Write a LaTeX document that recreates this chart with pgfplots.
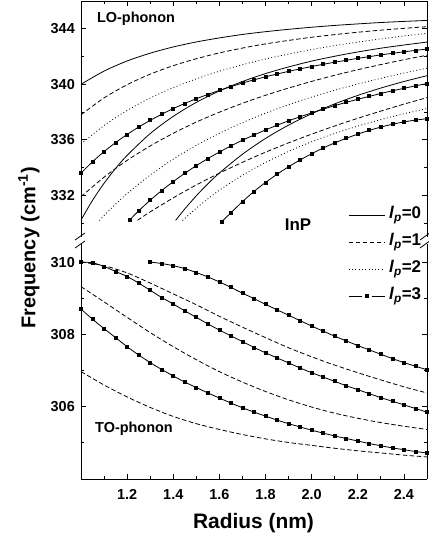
\documentclass[border=0pt]{standalone}
\usepackage{fontspec}
\setmainfont{Liberation Sans}
\usepackage{pgfplots}
\pgfplotsset{compat=1.18}
\pgfplotsset{
  every non boxed x axis/.style={xtick align=inside, x axis line style={-}},
  every non boxed y axis/.style={ytick align=inside, y axis line style={-}},
}
\tikzset{
  dashedl/.style={dash pattern=on 4.5bp off 2.5bp},
  dottedl/.style={dash pattern=on 0.9bp off 2.4bp},
}
\pgfplotsset{
  common/.style={
    width=346bp, scale only axis, xmin=1, xmax=2.5,
    xtick={1.2,1.4,1.6,1.8,2.0,2.2,2.4}, minor xtick={1.1,1.3,1.5,1.7,1.9,2.1,2.3,2.5},
    separate axis lines,
    axis line style={line width=0.9bp, -},
    tick align=inside,
    major tick length=5bp, minor tick length=3bp,
    every tick/.style={black, line width=0.8bp},
    /pgf/number format/assume math mode=true,
    tick label style={font=\bfseries\fontsize{14.5}{15}\selectfont},
    yticklabel style={inner sep=0pt, xshift=-6bp},
    xticklabel style={inner sep=0pt, yshift=-10bp, /pgf/number format/.cd, fixed, fixed zerofill, precision=1, /tikz/.cd},
    legend image code/.code={\draw[##1] (0bp,0bp) -- (36bp,0bp);},
  },
  dmlegend/.style={legend image code/.code={\draw[##1,mark=none] (0bp,0bp) -- (13bp,0bp); \draw[##1,mark=none] (23bp,0bp) -- (36bp,0bp); \draw[##1] plot coordinates {(18bp,0bp)};}},
  ln/.style={black, line width=0.8bp, smooth},
  dm/.style={black, line width=0.8bp, smooth, mark=square*, mark size=1.5bp, mark options={solid}},
}
\begin{document}
\begin{tikzpicture}[x=1bp,y=1bp]
\useasboundingbox (-81bp,-60bp) rectangle (348bp,479bp);

% ---------------- top panel: LO phonon ----------------
\begin{axis}[common, at={(0bp,242bp)}, anchor=south west, height=236bp,
  ymin=329, ymax=346, ytick={332,336,340,344}, minor ytick={330,334,338,342},
  axis x line*=top, axis y line*=box, x axis line style={-}, y axis line style={-}, xticklabels={},
  legend style={at={(0.772,0.133)}, anchor=north west, draw=none, fill=none,
    font=\bfseries\fontsize{17}{19}\selectfont, row sep=8bp, inner sep=0pt,
    nodes={inner sep=1bp, text height=12bp, text depth=5bp},
    /tikz/every odd column/.append style={column sep=3bp}},
  legend cell align=left]
\addplot[ln] coordinates {(1.0,340.00)(1.1,340.95)(1.2,341.68)(1.3,342.24)(1.4,342.69)(1.5,343.05)(1.6,343.34)(1.7,343.59)(1.8,343.79)(1.9,343.96)(2.0,344.11)(2.1,344.24)(2.2,344.35)(2.3,344.45)(2.4,344.53)(2.5,344.60)};
\addlegendentry{\textit{l}\textsubscript{\textit{p}}=0}
\addplot[ln, dashedl] coordinates {(1.0,337.80)(1.1,339.02)(1.2,339.97)(1.3,340.73)(1.4,341.34)(1.5,341.84)(1.6,342.26)(1.7,342.61)(1.8,342.91)(1.9,343.16)(2.0,343.39)(2.1,343.58)(2.2,343.75)(2.3,343.90)(2.4,344.03)(2.5,344.15)};
\addlegendentry{\textit{l}\textsubscript{\textit{p}}=1}
\addplot[ln, dottedl] coordinates {(1.0,335.70)(1.1,337.03)(1.2,338.12)(1.3,339.01)(1.4,339.76)(1.5,340.39)(1.6,340.94)(1.7,341.41)(1.8,341.82)(1.9,342.18)(2.0,342.50)(2.1,342.79)(2.2,343.04)(2.3,343.27)(2.4,343.48)(2.5,343.67)};
\addlegendentry{\textit{l}\textsubscript{\textit{p}}=2}
\addplot[dm, dmlegend] coordinates {(1.00,333.60)(1.05,334.42)(1.10,335.15)(1.15,335.80)(1.20,336.39)(1.25,336.92)(1.30,337.40)(1.35,337.84)(1.40,338.25)(1.45,338.62)(1.50,338.96)(1.55,339.27)(1.60,339.56)(1.65,339.83)(1.70,340.09)(1.75,340.32)(1.80,340.54)(1.85,340.74)(1.90,340.93)(1.95,341.11)(2.00,341.28)(2.05,341.44)(2.10,341.59)(2.15,341.73)(2.20,341.87)(2.25,341.99)(2.30,342.12)(2.35,342.23)(2.40,342.34)(2.45,342.44)(2.50,342.54)};
\addlegendentry{\textit{l}\textsubscript{\textit{p}}=3}
% second branches
\addplot[ln, forget plot] coordinates {(1.0,330.22)(1.05,331.64)(1.1,332.87)(1.15,333.94)(1.2,334.88)(1.3,336.45)(1.4,337.69)(1.5,338.70)(1.6,339.52)(1.7,340.20)(1.8,340.77)(1.9,341.25)(2.0,341.67)(2.1,342.02)(2.2,342.33)(2.3,342.60)(2.4,342.83)(2.5,343.04)};
\addplot[ln, dashedl, forget plot] coordinates {(1.0,331.90)(1.1,333.31)(1.2,334.52)(1.3,335.56)(1.4,336.47)(1.5,337.28)(1.6,337.99)(1.7,338.63)(1.8,339.21)(1.9,339.73)(2.0,340.21)(2.1,340.65)(2.2,341.05)(2.3,341.42)(2.4,341.77)(2.5,342.09)};
\addplot[ln, dottedl, forget plot] coordinates {(1.08,330.19)(1.1,330.55)(1.15,331.37)(1.2,332.13)(1.3,333.46)(1.4,334.61)(1.5,335.60)(1.6,336.47)(1.7,337.24)(1.8,337.92)(1.9,338.53)(2.0,339.08)(2.1,339.57)(2.2,340.02)(2.3,340.43)(2.4,340.81)(2.5,341.16)};
\addplot[dm, forget plot] coordinates {(1.21,330.21)(1.25,330.88)(1.30,331.65)(1.35,332.35)(1.40,332.99)(1.45,333.59)(1.50,334.14)(1.55,334.65)(1.60,335.12)(1.65,335.56)(1.70,335.97)(1.75,336.35)(1.80,336.71)(1.85,337.05)(1.90,337.37)(1.95,337.66)(2.00,337.94)(2.05,338.21)(2.10,338.46)(2.15,338.70)(2.20,338.92)(2.25,339.13)(2.30,339.34)(2.35,339.53)(2.40,339.71)(2.45,339.89)(2.50,340.05)};
% third branches
\addplot[ln, forget plot] coordinates {(1.41,330.19)(1.45,331.02)(1.5,331.97)(1.55,332.83)(1.6,333.61)(1.7,334.96)(1.8,336.10)(1.9,337.06)(2.0,337.88)(2.1,338.59)(2.2,339.20)(2.3,339.73)(2.4,340.20)(2.5,340.62)};
\addplot[ln, dashedl, forget plot] coordinates {(1.245,330.20)(1.3,330.81)(1.4,331.82)(1.5,332.75)(1.6,333.60)(1.7,334.38)(1.8,335.11)(1.9,335.78)(2.0,336.41)(2.1,337.00)(2.2,337.55)(2.3,338.07)(2.4,338.57)(2.5,339.04)};
\addplot[ln, dottedl, forget plot] coordinates {(1.44,330.19)(1.5,331.08)(1.55,331.75)(1.6,332.37)(1.7,333.45)(1.8,334.37)(1.9,335.17)(2.0,335.86)(2.1,336.46)(2.2,336.99)(2.3,337.46)(2.4,337.88)(2.5,338.25)};
\addplot[dm, forget plot] coordinates {(1.61,330.10)(1.65,330.75)(1.70,331.55)(1.75,332.28)(1.80,332.93)(1.85,333.52)(1.90,334.06)(1.95,334.55)(2.00,335.00)(2.05,335.41)(2.10,335.78)(2.15,336.11)(2.20,336.41)(2.25,336.68)(2.30,336.92)(2.35,337.12)(2.40,337.29)(2.45,337.42)(2.50,337.52)};
\end{axis}

% ---------------- bottom panel: TO phonon ----------------
\begin{axis}[common, at={(0bp,0bp)}, anchor=south west, height=235bp,
  ymin=304, ymax=310.5, ytick={306,308,310}, minor ytick={305,307,309},
  axis x line*=bottom, axis y line*=box, x axis line style={-}, y axis line style={-}]
\addplot[ln, dashedl] coordinates {(1.0,310.00)(1.1,309.90)(1.2,309.70)(1.3,309.42)(1.4,309.12)(1.5,308.82)(1.6,308.50)(1.7,308.20)(1.8,307.91)(1.9,307.63)(2.0,307.38)(2.1,307.15)(2.2,306.94)(2.3,306.74)(2.4,306.55)(2.5,306.38)};
\addplot[dm] coordinates {(1.00,310.00)(1.05,309.98)(1.10,309.88)(1.15,309.74)(1.20,309.60)(1.25,309.42)(1.30,309.22)(1.35,309.02)(1.40,308.84)(1.45,308.65)(1.50,308.47)(1.55,308.29)(1.60,308.12)(1.65,307.96)(1.70,307.80)(1.75,307.64)(1.80,307.49)(1.85,307.35)(1.90,307.21)(1.95,307.07)(2.00,306.94)(2.05,306.82)(2.10,306.70)(2.15,306.58)(2.20,306.47)(2.25,306.36)(2.30,306.25)(2.35,306.15)(2.40,306.05)(2.45,305.95)(2.50,305.85)};
\addplot[dm] coordinates {(1.30,310.00)(1.35,309.96)(1.40,309.90)(1.45,309.82)(1.50,309.71)(1.55,309.59)(1.60,309.45)(1.65,309.30)(1.70,309.14)(1.75,308.99)(1.80,308.83)(1.85,308.68)(1.90,308.53)(1.95,308.38)(2.00,308.23)(2.05,308.09)(2.10,307.95)(2.15,307.82)(2.20,307.69)(2.25,307.57)(2.30,307.45)(2.35,307.33)(2.40,307.22)(2.45,307.12)(2.50,307.02)};
\addplot[ln, dashedl] coordinates {(1.0,309.32)(1.1,308.90)(1.2,308.47)(1.3,308.05)(1.4,307.66)(1.5,307.30)(1.6,306.97)(1.7,306.68)(1.8,306.42)(1.9,306.19)(2.0,305.99)(2.1,305.82)(2.2,305.68)(2.3,305.56)(2.4,305.46)(2.5,305.37)};
\addplot[dm] coordinates {(1.00,308.70)(1.05,308.42)(1.10,308.16)(1.15,307.91)(1.20,307.66)(1.25,307.43)(1.30,307.22)(1.35,307.03)(1.40,306.85)(1.45,306.68)(1.50,306.53)(1.55,306.38)(1.60,306.24)(1.65,306.10)(1.70,305.97)(1.75,305.85)(1.80,305.74)(1.85,305.63)(1.90,305.53)(1.95,305.44)(2.00,305.35)(2.05,305.27)(2.10,305.19)(2.15,305.12)(2.20,305.05)(2.25,304.98)(2.30,304.92)(2.35,304.86)(2.40,304.81)(2.45,304.76)(2.50,304.72)};
\addplot[ln, dashedl] coordinates {(1.0,306.97)(1.1,306.60)(1.2,306.27)(1.3,305.98)(1.4,305.73)(1.5,305.53)(1.6,305.37)(1.7,305.23)(1.8,305.11)(1.9,305.01)(2.0,304.93)(2.1,304.85)(2.2,304.78)(2.3,304.72)(2.4,304.66)(2.5,304.61)};
\end{axis}

% axis-break marks
\draw[line width=0.8bp] (-6bp,239bp) -- (4bp,246bp);
\draw[line width=0.8bp] (-6bp,231bp) -- (4bp,238bp);
\draw[line width=0.8bp] (339bp,239bp) -- (348bp,245.5bp);
\draw[line width=0.8bp] (339bp,231bp) -- (348bp,237.5bp);

% labels
\node[font=\bfseries\fontsize{14.5}{16}\selectfont] at (55bp,460bp) {LO-phonon};
\node[font=\bfseries\fontsize{17}{19}\selectfont] at (217bp,254bp) {InP};
\node[font=\bfseries\fontsize{14.5}{16}\selectfont] at (53bp,50bp) {TO-phonon};
\node[font=\bfseries\fontsize{21}{24}\selectfont] at (172.5bp,-44bp) {Radius (nm)};
\node[font=\bfseries\fontsize{20}{24}\selectfont, rotate=90] at (-52bp,231bp) {Frequency (cm\textsuperscript{-1})};
\end{tikzpicture}
\end{document}
